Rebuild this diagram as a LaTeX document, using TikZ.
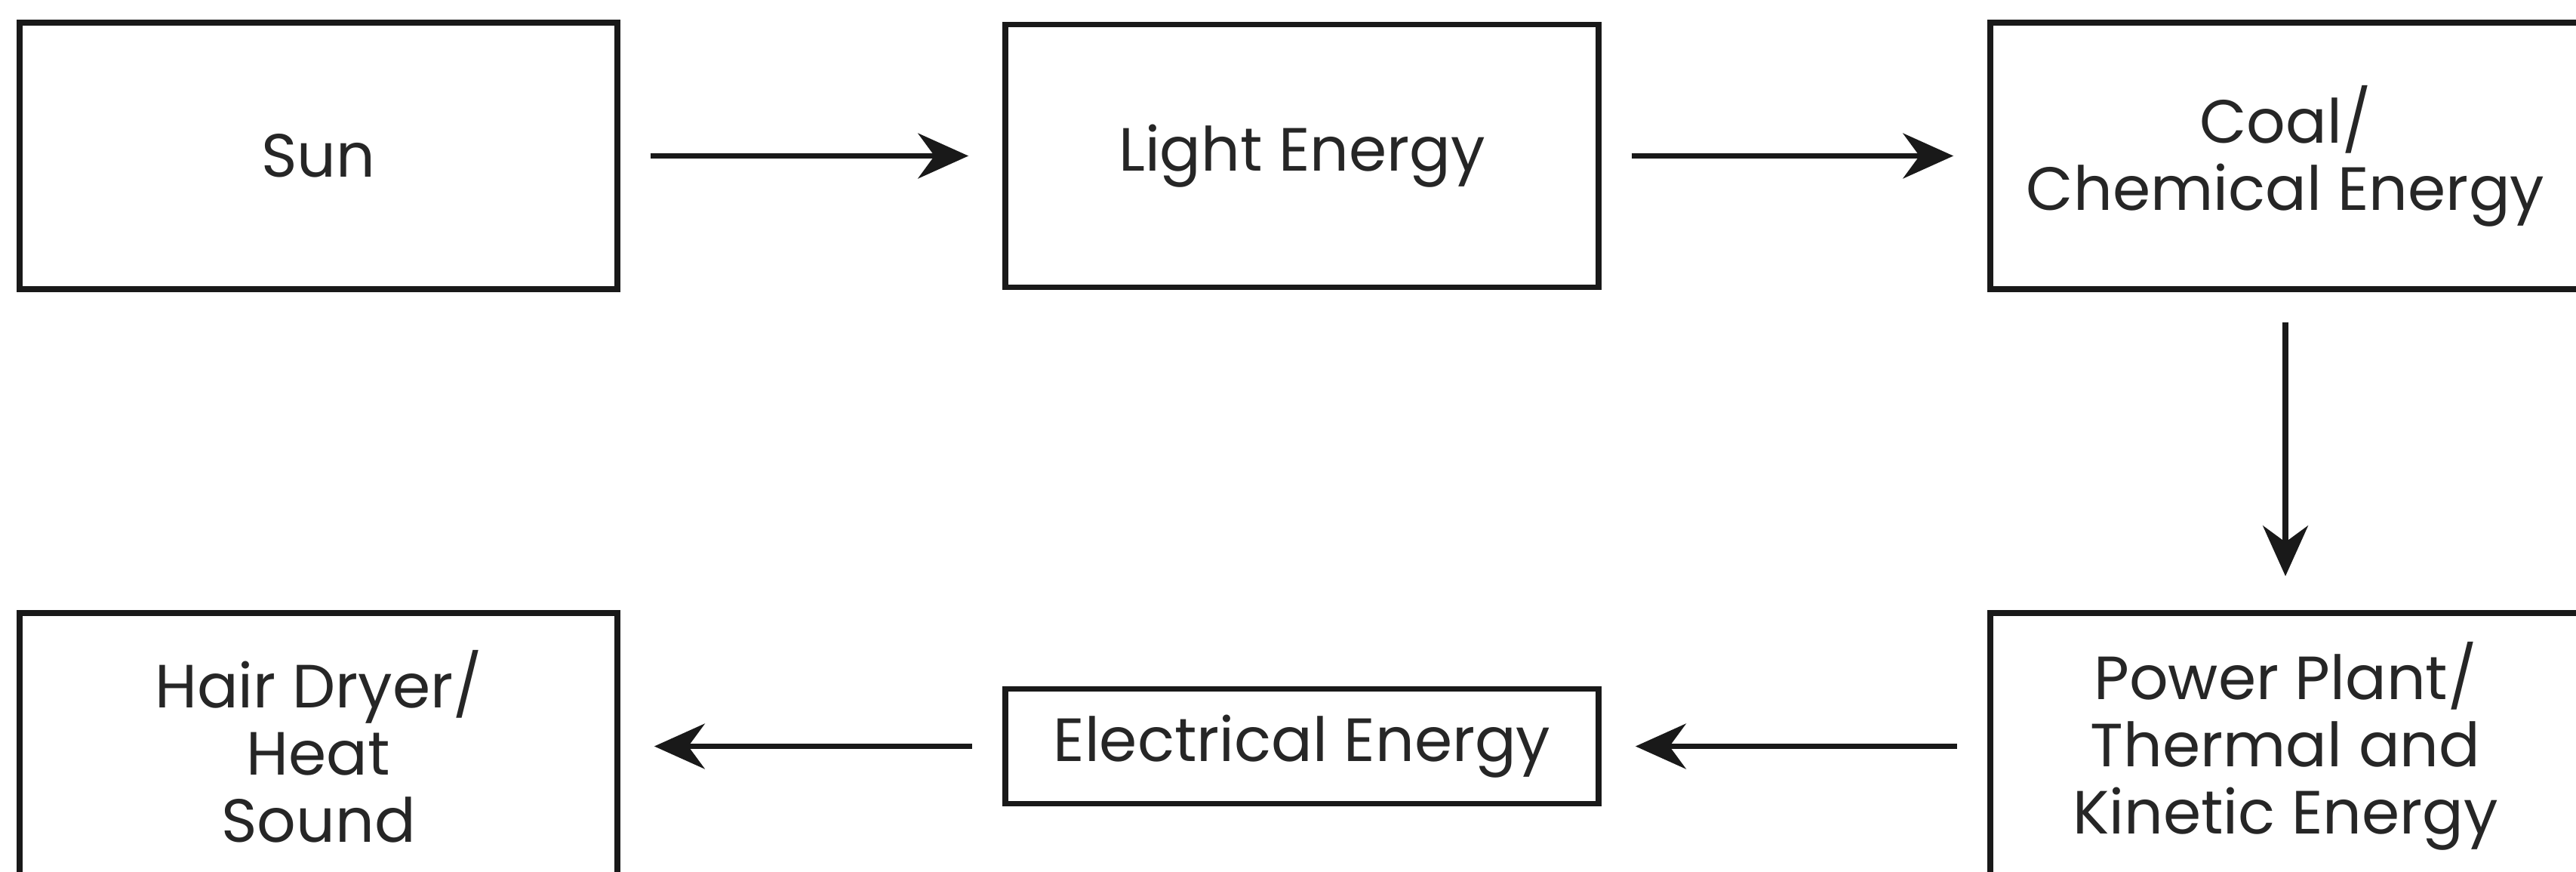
\documentclass[tikz,border=0pt]{standalone}
\usepackage{fontspec}
\setmainfont{Poppins}
\usetikzlibrary{arrows.meta}

\begin{document}
\begin{tikzpicture}[node distance=13.03cm,>={Stealth[length=19pt,width=17pt]},line width=2.2pt,
        box/.style={draw=black!90, rectangle, text=black!85, align=center, minimum width=7.92cm, minimum height=3.53cm, font=\fontsize{23}{25.3}\selectfont},
        flow/.style={->, draw=black!90, shorten <=0.4cm, shorten >=0.45cm}]
        \useasboundingbox (0,0) rectangle (34.13,-11.54);
        \node (sun) [box] at (4.22,-2.065) {Sun};
        \node (light) [box, right of=sun, minimum width=7.86cm, minimum height=3.48cm] {Light Energy};
        \node (coal) [box, right of=light, minimum width=7.82cm] {Coal/\\Chemical Energy};
        \node (plant) [box, below of=coal, node distance=7.82cm, minimum width=7.82cm] {Power Plant/\\Thermal and\\Kinetic Energy};
        \node (elec) [box, left of=plant, minimum width=7.86cm, minimum height=1.52cm] {Electrical Energy};
        \node (dryer) [box, left of=elec] {Hair Dryer/\\Heat\\Sound};

        \draw[flow] (sun) -- (light);
        \draw[flow] (light) -- (coal);
        \draw[flow] (coal) -- (plant);
        \draw[flow] (plant) -- (elec);
        \draw[flow] (elec) -- (dryer);
    \end{tikzpicture}
\end{document}
